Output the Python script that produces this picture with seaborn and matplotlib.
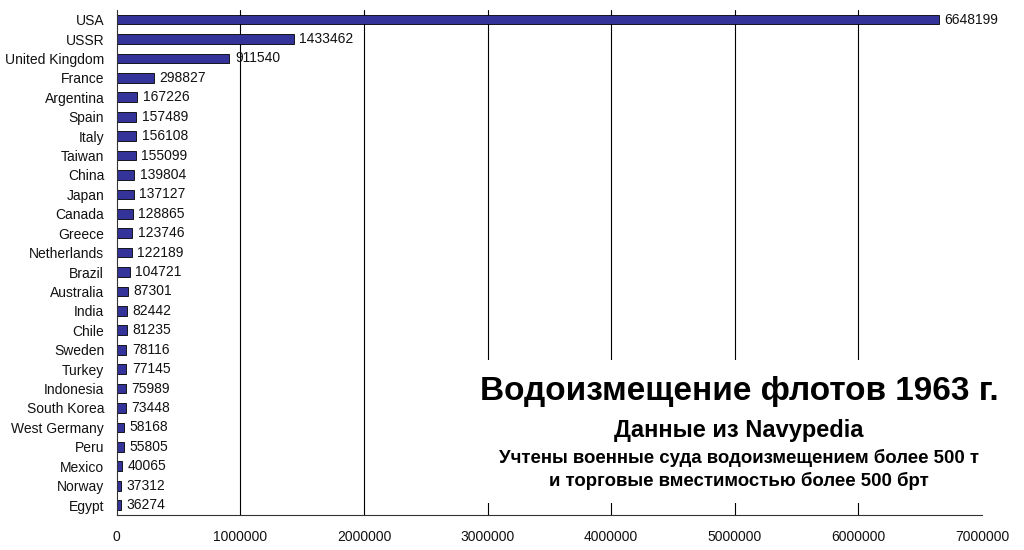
import matplotlib
matplotlib.use("Agg")
import matplotlib.pyplot as plt
from matplotlib.patches import Rectangle
import seaborn as sns
import numpy as np
import pandas as pd

countries = ["USA", "USSR", "United Kingdom", "France", "Argentina", "Spain", "Italy",
             "Taiwan", "China", "Japan", "Canada", "Greece", "Netherlands", "Brazil",
             "Australia", "India", "Chile", "Sweden", "Turkey", "Indonesia",
             "South Korea", "West Germany", "Peru", "Mexico", "Norway", "Egypt"]
tonnage = [6648199, 1433462, 911540, 298827, 167226, 157489, 156108,
           155099, 139804, 137127, 128865, 123746, 122189, 104721,
           87301, 82442, 81235, 78116, 77145, 75989,
           73448, 58168, 55805, 40065, 37312, 36274]
xticks = [0, 1000000, 2000000, 3000000, 4000000, 5000000, 6000000, 7000000]

df = pd.DataFrame({"country": countries, "tonnage": tonnage})

sns.set_style("white")
plt.rcParams["font.family"] = ["Liberation Sans", "DejaVu Sans"]
plt.rcParams["text.color"] = "black"

fig = plt.figure(figsize=(10.24, 5.5), dpi=100)
ax = fig.add_axes([0.114, 0.064, 0.845, 0.918])

sns.barplot(data=df, y="country", x="tonnage", orient="h", color="#333399",
            saturation=1, edgecolor="black", linewidth=0.6, width=0.5, ax=ax)

ax.bar_label(ax.containers[0], labels=[str(v) for v in tonnage], padding=4,
             fontsize=10, color="#111111")

ax.set_xlim(0, 7000000)
ax.set_ylim(len(countries) - 0.5, -0.5)
ax.set_xticks(xticks)
ax.set_xticklabels([str(t) for t in xticks], fontsize=10, color="#111111")
ax.tick_params(axis="y", labelsize=10, length=0, pad=9, labelcolor="#111111")
ax.set_yticks(np.arange(-0.5, len(countries)), minor=True)
ax.tick_params(axis="y", which="minor", length=5, direction="out", color="#333333")
ax.tick_params(axis="x", length=5, direction="out", color="#333333", pad=6)
ax.set_xlabel("")
ax.set_ylabel("")

ax.grid(axis="x", color="black", linewidth=0.8)
ax.set_axisbelow(True)
# no gridline at the far right edge
ax.xaxis.get_gridlines()[-1].set_visible(False)
ax.xaxis.get_gridlines()[0].set_visible(False)
for s in ["top", "right"]:
    ax.spines[s].set_visible(False)
for s in ["left", "bottom"]:
    ax.spines[s].set_color("#333333")
    ax.spines[s].set_linewidth(0.8)

# white title box covering the gridlines
fig.patches.append(Rectangle((0.46, 1 - 503 / 550), 0.535, (503 - 360) / 550,
                             transform=fig.transFigure, facecolor="white",
                             edgecolor="none", zorder=1))

fig.text(0.7217, 0.289, "Водоизмещение флотов 1963 г.", fontsize=24, fontweight="bold",
         ha="center", va="center", zorder=3)
fig.text(0.7217, 0.218, "Данные из Navypedia", fontsize=17, fontweight="bold",
         ha="center", va="center", zorder=3)
fig.text(0.7217, 0.167, "Учтены военные суда водоизмещением более 500 т", fontsize=13.4,
         fontweight="bold", ha="center", va="center", zorder=3)
fig.text(0.7217, 0.125, "и торговые вместимостью более 500 брт", fontsize=13.4,
         fontweight="bold", ha="center", va="center", zorder=3)

fig.savefig("out.png", dpi=100, facecolor="white")
